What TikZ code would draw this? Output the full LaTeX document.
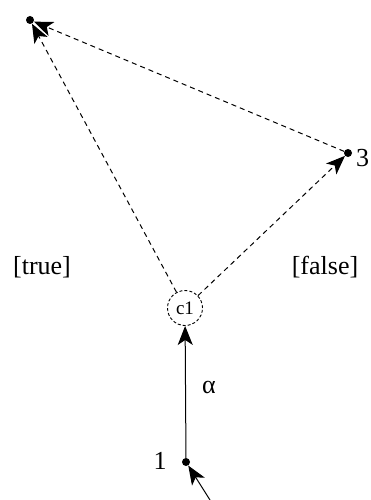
\documentclass[tikz,border=0pt]{standalone}
\usepackage{fontspec}
\setmainfont{Liberation Serif}
\usetikzlibrary{arrows.meta}
\begin{document}
\begin{tikzpicture}[x=1pt,y=-1pt,
  pt/.style={circle,fill=black,inner sep=0pt,minimum size=8pt},
  lbl/.style={font=\fontsize{26}{28}\selectfont,inner sep=0pt},
  conn/.style={line width=1pt,-{Stealth[length=19pt,width=15pt,inset=5pt]}},
  dconn/.style={conn,dash pattern=on 5pt off 4pt}]
\useasboundingbox (0,0) rectangle (371,500);
\node[pt] (a) at (30,20) {};
\node[pt] (b) at (348,153) {};
\node[pt] (p1) at (186,462) {};
\node[circle,draw,dash pattern=on 3pt off 2pt,line width=0.9pt,minimum size=35pt,inner sep=0pt,font=\fontsize{19}{19}\selectfont] (c) at (185,308) {c1};
\coordinate (s) at (210,500);
\node[lbl] at (42,267) {[true]};
\node[lbl] at (325,267) {[false]};
\node[lbl,anchor=west] at (356,158) {3};
\node[lbl] at (160,461) {1};
\node[lbl] at (209,387) {α};
\draw[dconn] (c) -- (a);
\draw[dconn] (b) -- (a);
\draw[dconn] (c) -- (b);
\draw[conn] (p1) -- (c);
\draw[conn] (s) -- (p1);
\end{tikzpicture}
\end{document}
